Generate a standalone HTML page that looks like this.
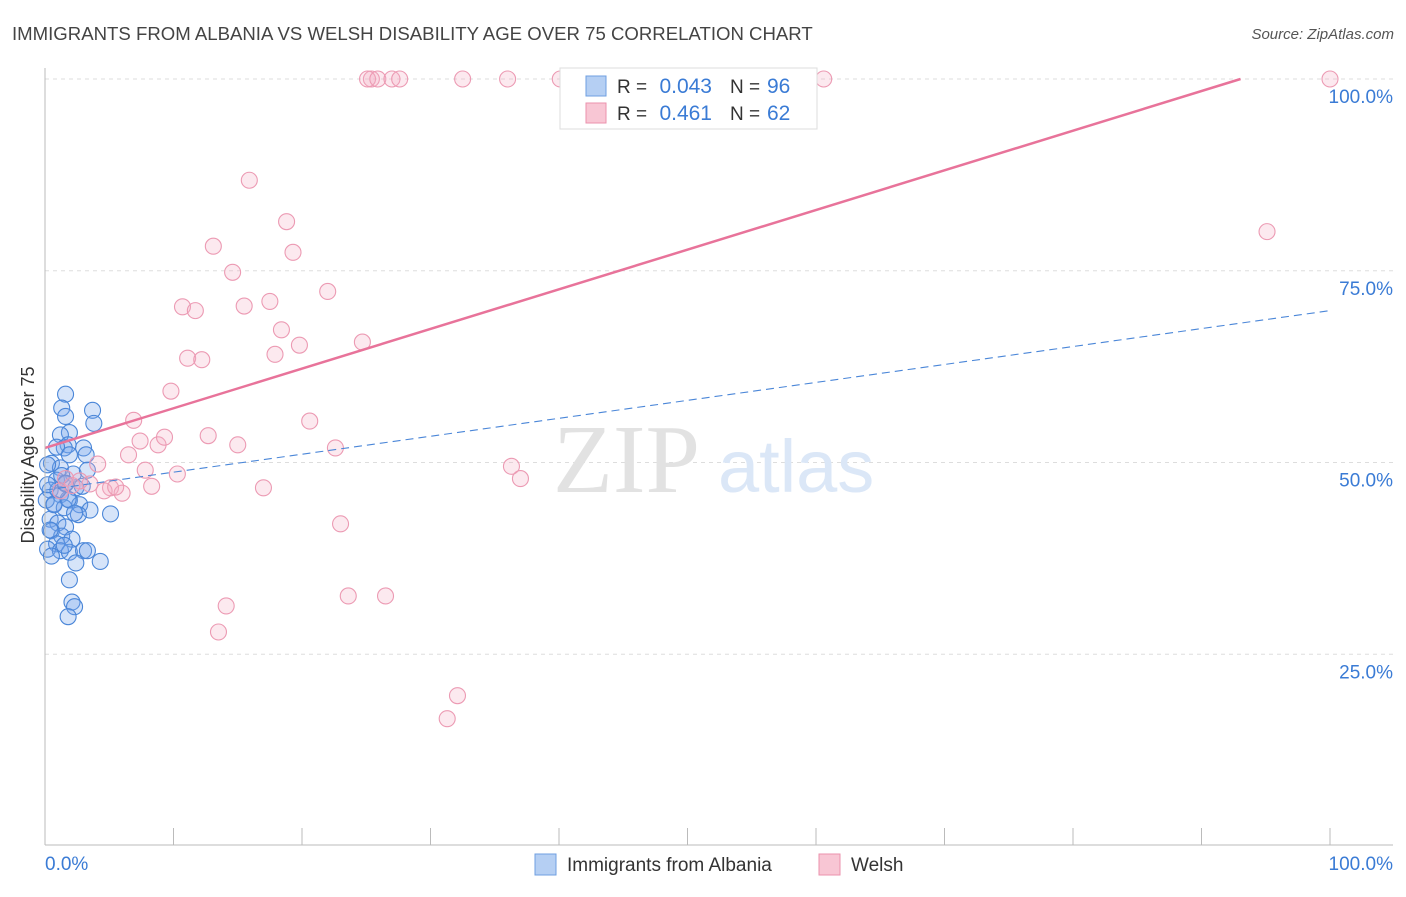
<!DOCTYPE html>
<html><head><meta charset="utf-8"><style>
body{margin:0;background:#fff;font-family:"Liberation Sans",sans-serif}
</style></head><body>
<svg id="chart" width="1406" height="892" xmlns="http://www.w3.org/2000/svg" font-family="Liberation Sans, sans-serif">
<text x="12" y="40" font-size="18.6" fill="#444">IMMIGRANTS FROM ALBANIA VS WELSH DISABILITY AGE OVER 75 CORRELATION CHART</text>
<text x="1394" y="39" font-size="15" fill="#555" font-style="italic" text-anchor="end">Source: ZipAtlas.com</text>
<g id="grid"></g>
<text x="553" y="492" font-size="98" font-family="Liberation Serif, serif" fill="#e2e2e2">ZIP</text>
<text x="718" y="492" font-size="74" fill="#dbe7f7">atlas</text>
<g id="marks"></g>
<line x1="45" y1="68" x2="45" y2="845" stroke="#bbb"/>
<line x1="45" y1="845" x2="1393" y2="845" stroke="#bbb"/>
<g id="xticks"></g>
<text transform="translate(34,455) rotate(-90)" font-size="18" fill="#333" text-anchor="middle">Disability Age Over 75</text>
<text x="45" y="870" font-size="19" fill="#3a7bd5">0.0%</text>
<text x="1393" y="870" font-size="19" fill="#3a7bd5" text-anchor="end">100.0%</text>
<g>
<rect x="560" y="68" width="257" height="61" fill="#fff" stroke="#ddd"/>
<rect x="586" y="76" width="20" height="20" fill="#b5cff3" stroke="#6f9fe0"/>
<rect x="586" y="103" width="20" height="20" fill="#f8c6d4" stroke="#eb92ad"/>
<text x="617" y="93" font-size="19" fill="#333">R =</text>
<text x="712" y="93" font-size="21" fill="#3a7bd5" text-anchor="end">0.043</text>
<text x="730" y="93" font-size="19" fill="#333">N =</text>
<text x="767" y="93" font-size="21" fill="#3a7bd5">96</text>
<text x="617" y="120" font-size="19" fill="#333">R =</text>
<text x="712" y="120" font-size="21" fill="#3a7bd5" text-anchor="end">0.461</text>
<text x="730" y="120" font-size="19" fill="#333">N =</text>
<text x="767" y="120" font-size="21" fill="#3a7bd5">62</text>
</g>
<g>
<rect x="535" y="854" width="21" height="21" fill="#b5cff3" stroke="#6f9fe0"/>
<text x="567" y="871" font-size="19" fill="#333">Immigrants from Albania</text>
<rect x="819" y="854" width="21" height="21" fill="#f8c6d4" stroke="#eb92ad"/>
<text x="851" y="871" font-size="19" fill="#333">Welsh</text>
</g>
</svg>
<script>
const yTicks=[25,50,75,100];
const yTickLabels=["25.0%","50.0%","75.0%","100.0%"];
const blueX=[1.6,1.3,3.7,1.6,3.8,1.9,1.2,1.8,3.0,1.5,3.2,0.5,1.2,2.2,3.3,0.9,1.6,2.4,0.4,1.2,1.9,2.7,3.5,0.7,1.5,2.6,5.1,0.4,1.0,1.6,0.5,1.3,2.1,0.9,0.2,1.2,1.9,3.0,3.3,0.5,2.4,4.3,1.9,2.1,2.3,1.8,0.2,0.9,1.9,2.9,0.1,0.7,1.3,1.8,2.3,0.4,1.5,1.0,0.2,1.6];
const blueY=[58.9,57.1,56.8,56.0,55.1,53.9,53.6,52.3,51.9,51.9,51.0,49.9,49.3,48.5,49.0,47.7,47.2,46.7,46.4,45.8,45.1,44.5,43.8,44.6,44.1,43.2,43.3,42.6,42.1,41.6,41.1,40.4,40.0,39.4,38.7,38.5,38.3,38.5,38.5,37.8,36.9,37.1,34.7,31.8,31.2,29.9,49.7,52.0,51.0,46.9,45.1,44.5,48.3,45.2,43.4,41.2,39.2,46.4,47.1,47.3];
const pinkX=[25.4,25.1,25.9,27.0,27.6,32.5,36.0,40.1,60.6,100,15.9,18.8,13.1,19.3,14.6,95.1,22.0,17.5,10.7,11.7,15.5,18.4,19.8,24.7,11.1,12.2,17.9,9.8,6.9,20.6,7.4,8.8,9.3,12.7,15.0,22.6,6.5,4.1,7.8,10.3,36.3,37.0,8.3,17.0,3.5,5.1,6.0,4.6,5.5,2.7,1.6,1.2,2.1,23.0,23.6,26.5,14.1,13.5,32.1,31.3];
const pinkY=[100,100,100,100,100,100,100,100,100,100,86.8,81.4,78.2,77.4,74.8,80.1,72.3,71.0,70.3,69.8,70.4,67.3,65.3,65.7,63.6,63.4,64.1,59.3,55.5,55.4,52.8,52.3,53.3,53.5,52.3,51.9,51.0,49.8,49.0,48.5,49.5,47.9,46.9,46.7,47.2,46.7,46.0,46.3,46.8,47.6,47.9,46.3,47.0,42.0,32.6,32.6,31.3,27.9,19.6,16.6];
const blueLine=[46.4,69.8];
const pinkLine=[51.9,103.6];
const NS="http://www.w3.org/2000/svg";
const X=v=>45+v*12.85, Y=v=>846-v*7.67;
const svg=document.getElementById('chart');
const grid=document.getElementById('grid'), marks=document.getElementById('marks'), xt=document.getElementById('xticks');
function mk(tag,attrs,parent){const e=document.createElementNS(NS,tag);for(const k in attrs)e.setAttribute(k,attrs[k]);parent.appendChild(e);return e;}
yTicks.forEach((t,i)=>{
 const l=mk('line',{x1:45,x2:1393,y1:Y(t),y2:Y(t),stroke:'#ddd','stroke-dasharray':'4,4'},grid);
 
 
 const tx=mk('text',{x:1393,y:Y(t)+24,'font-size':19,fill:'#3a7bd5','text-anchor':'end'},svg);
 tx.textContent=yTickLabels[i];
 
 
});
for(let i=1;i<=10;i++){
 const l=mk('line',{x1:X(i*10),x2:X(i*10),y1:828,y2:845,stroke:'#bbb'},xt);
 
 
}
blueX.forEach((x,i)=>{
 const c=mk('circle',{cx:X(x),cy:Y(blueY[i]),r:8,fill:'rgba(120,165,235,0.3)',stroke:'#4a86d8','stroke-width':1.1},marks);
 
 
});
pinkX.forEach((x,i)=>{
 const c=mk('circle',{cx:X(x),cy:Y(pinkY[i]),r:8,fill:'rgba(245,175,198,0.28)',stroke:'#ec9ab3','stroke-width':1.1},marks);
 
 
});
const bl=mk('line',{x1:X(0),y1:Y(blueLine[0]),x2:X(100),y2:Y(blueLine[1]),stroke:'#4a86d8','stroke-width':1.1,'stroke-dasharray':'8,5'},marks);


const xEnd=(100-pinkLine[0])/(pinkLine[1]-pinkLine[0])*100;
const pl=mk('line',{x1:X(0),y1:Y(pinkLine[0]),x2:X(xEnd),y2:Y(100),stroke:'#e8739a','stroke-width':2.5},marks);


</script>
</body></html>
